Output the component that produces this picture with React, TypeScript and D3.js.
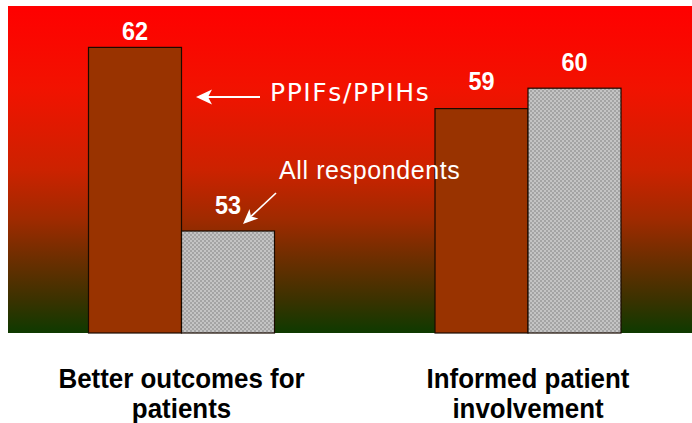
import React from "react";
import * as d3 from "d3";

const categories = ["Better outcomes for patients", "Informed patient involvement"];
const categoryLines = [["Better outcomes for", "patients"], ["Informed patient", "involvement"]];
const seriesNames = ["PPIFs/PPIHs", "All respondents"];
const ppifValues = [62, 59];
const allValues = [53, 60];

const W = 692, H = 423;
const plot = { left: 8, right: 692, top: 6, bottom: 333 };
const NARROW = "'Liberation Sans', Arial, sans-serif";

function arrow(x1: number, y1: number, x2: number, y2: number, len: number, half: number, notch: number) {
  const a = Math.atan2(y2 - y1, x2 - x1);
  const ux = Math.cos(a), uy = Math.sin(a);
  const px = -uy, py = ux;
  const bx = x2 - ux * len, by = y2 - uy * len;
  const nx = x2 - ux * (len - notch), ny = y2 - uy * (len - notch);
  return {
    line: { x1, y1, x2: nx, y2: ny },
    head: `M${x2},${y2} L${bx + px * half},${by + py * half} L${nx},${ny} L${bx - px * half},${by - py * half} Z`,
  };
}

export default function App() {
  const groupX = d3.scalePoint<string>().domain(categories).range([181.5, 528]);
  const barW = 93;
  const y = d3.scaleLinear().domain([48, 64]).range([plot.bottom, plot.bottom - 16 * 20.4]);

  const series = [ppifValues, allValues];
  const fills = ["#993300", "url(#checker)"];
  const labelGap = [[7, 17], [19, 17]]; // [category][series]

  const a1 = arrow(260, 97, 196, 97, 16, 7.5, 4);
  const a2 = arrow(276, 193, 243, 224, 15, 6.5, 4);

  return (
    <svg width={W} height={H} style={{ display: "block", position: "absolute", left: 0, top: 0 }}>
      <defs>
        <linearGradient id="bg" x1="0" y1="0" x2="0" y2="1">
          <stop offset="0" stopColor="#ff0000" />
          <stop offset="0.25" stopColor="#f21200" />
          <stop offset="0.5" stopColor="#cc2200" />
          <stop offset="0.65" stopColor="#a02a00" />
          <stop offset="0.77" stopColor="#6e2e00" />
          <stop offset="0.9" stopColor="#3a3200" />
          <stop offset="1" stopColor="#0e3a00" />
        </linearGradient>
        <pattern id="checker" width="4" height="4" patternUnits="userSpaceOnUse">
          <rect width="4" height="4" fill="#c4c4c4" />
          <rect width="2" height="2" fill="#a4a4a4" />
          <rect x="2" y="2" width="2" height="2" fill="#a4a4a4" />
        </pattern>
      </defs>
      <rect x={plot.left} y={plot.top} width={plot.right - plot.left} height={plot.bottom - plot.top} fill="url(#bg)" />
      {categories.map((c, ci) =>
        series.map((vals, si) => {
          const cx = groupX(c)!;
          const bx = si === 0 ? cx - barW : cx;
          return (
            <rect key={c + si} x={bx} y={y(vals[ci])} width={barW} height={plot.bottom - y(vals[ci])}
              fill={fills[si]} stroke="#1a0a00" strokeWidth={1.2} />
          );
        })
      )}
      {categories.map((c, ci) =>
        series.map((vals, si) => {
          const cx = groupX(c)!;
          const lx = si === 0 ? cx - barW / 2 : cx + barW / 2;
          return (
            <g key={"l" + c + si} transform={`translate(${lx},${y(vals[ci]) - labelGap[ci][si]}) scale(0.9,1)`}>
              <text x={0} y={0} textAnchor="middle" fill="#fff" fontFamily={NARROW}
                fontWeight="bold" fontSize={26}>{vals[ci]}</text>
            </g>
          );
        })
      )}
      <line {...a1.line} stroke="#fff" strokeWidth={2} />
      <path d={a1.head} fill="#fff" />
      <text x={270} y={101} fill="#fff" fontFamily="'DejaVu Sans', Verdana, sans-serif" fontSize={25} letterSpacing={1.6}>{seriesNames[0]}</text>
      <text x={279} y={179} fill="#fff" fontFamily="'Liberation Sans', Arial, sans-serif" fontSize={25} letterSpacing={0.6}>{seriesNames[1]}</text>
      <line {...a2.line} stroke="#fff" strokeWidth={1.7} />
      <path d={a2.head} fill="#fff" />
      {categoryLines.map((lines, ci) =>
        lines.map((ln, li) => (
          <g key={"c" + ci + li} transform={`translate(${groupX(categories[ci])!},${388 + li * 30}) scale(0.96,1)`}>
            <text x={0} y={0} textAnchor="middle" fill="#000" fontFamily={NARROW} fontWeight="bold" fontSize={27}>{ln}</text>
          </g>
        ))
      )}
    </svg>
  );
}
